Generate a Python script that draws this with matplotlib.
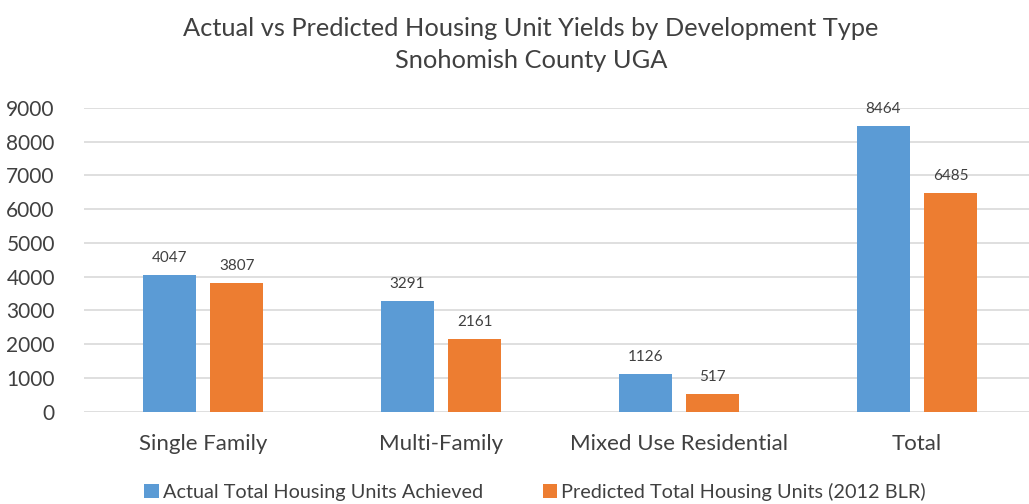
import matplotlib.pyplot as plt
import numpy as np

# chart data
categories = ["Single Family", "Multi-Family", "Mixed Use Residential", "Total"]
actual = [4047, 3291, 1126, 8464]
predicted = [3807, 2161, 517, 6485]
series_names = ["Actual Total Housing Units Achieved", "Predicted Total Housing Units (2012 BLR)"]

blue = "#5B9BD5"
orange = "#ED7D31"
txt = "#404040"

plt.rcParams["font.family"] = ["Lato", "DejaVu Sans"]

fig = plt.figure(figsize=(10.29, 5.04), dpi=100)
ax = fig.add_axes([84/1029, 1-411.7/504, 1-84/1029, (411.7-108)/504])

x = np.arange(len(categories))
w = 0.223
b1 = ax.bar(x - 0.142, actual, w, color=blue, label=series_names[0], zorder=3)
b2 = ax.bar(x + 0.142, predicted, w, color=orange, label=series_names[1], zorder=3)

for bars in (b1, b2):
	for r in bars:
		ax.text(r.get_x() + r.get_width()/2, r.get_height() + 300, str(int(r.get_height())),
			ha="center", va="bottom", fontsize=11, color=txt)

ax.set_ylim(0, 9000)
ax.set_xlim(-0.5, 3.47)
ax.set_yticks(np.arange(0, 9001, 1000))
ax.set_xticks(x)
ax.set_xticklabels(categories, fontsize=16)
ax.yaxis.grid(True, color="#D9D9D9", lw=1.2, zorder=0)
ax.set_axisbelow(True)
for s in ax.spines.values():
	s.set_visible(False)
ax.tick_params(axis="both", length=0, colors=txt)
ax.tick_params(axis="y", labelsize=15, pad=21)
ax.tick_params(axis="x", pad=16)

fig.text(531/1029, 1-29/504, "Actual vs Predicted Housing Unit Yields by Development Type",
	ha="center", va="center", fontsize=18.3, color=txt)
fig.text(531/1029, 1-61/504, "Snohomish County UGA",
	ha="center", va="center", fontsize=18.3, color=txt)

fig.legend(loc="center", bbox_to_anchor=(535/1029, 1-492/504), ncol=2, frameon=False,
	fontsize=14.3, handlelength=0.75, handleheight=0.75, handletextpad=0.2,
	columnspacing=3.0, labelcolor=txt, borderaxespad=0, borderpad=0)

fig.savefig("out.png", dpi=100)
